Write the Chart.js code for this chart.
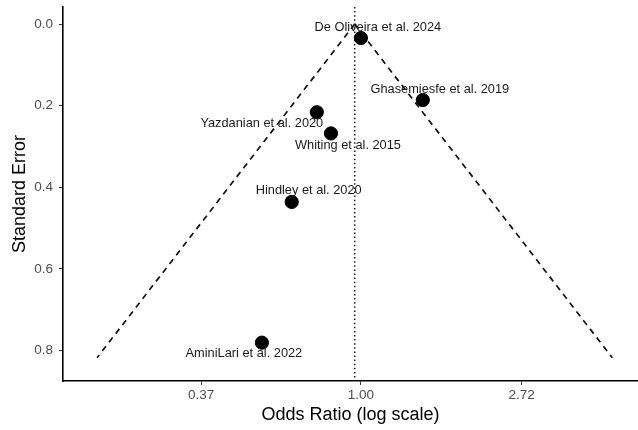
<!DOCTYPE html>
<html>
<head>
<meta charset="utf-8">
<script src="https://cdn.jsdelivr.net/npm/chart.js@4.4.1/dist/chart.umd.min.js"></script>
<style>
  html, body { margin: 0; padding: 0; background: #fff; }
  #wrap { width: 638px; height: 430px; }
</style>
</head>
<body>
<div id="wrap"><canvas id="funnel"></canvas></div>
<script>
// studies (odds ratio, standard error)
const studies = ['De Oliveira et al. 2024', 'Ghasemiesfe et al. 2019', 'Yazdanian et al. 2020',
  'Whiting et al. 2015', 'Hindley et al. 2020', 'AminiLari et al. 2022'];
const oddsRatios = [1.00, 1.47, 0.76, 0.83, 0.65, 0.54];
const stdErrors = [0.034, 0.186, 0.216, 0.268, 0.436, 0.781];

// pooled estimate and funnel depth
const pooledOR = 0.962;
const maxSE = 0.818;

// axis ticks
const xTicks = [0.37, 1.00, 2.72];
const yTicks = [0.0, 0.2, 0.4, 0.6, 0.8];

// label placement, px from the point centre (text centre)
const labelOffsets = [[17, -11], [17, -11], [-55, 11], [17, 12], [17, -11], [-18, 11]];

const points = oddsRatios.map((or, i) => ({ x: or, y: stdErrors[i] }));
const leftFunnel = [{ x: pooledOR, y: 0 }, { x: pooledOR * Math.exp(-1.96 * maxSE), y: maxSE }];
const rightFunnel = [{ x: pooledOR, y: 0 }, { x: pooledOR * Math.exp(1.96 * maxSE), y: maxSE }];

const xMin = 0.1566, xMax = 5.61;
const yMin = -0.042, yMax = 0.875;
const centreLine = [{ x: pooledOR, y: yMin }, { x: pooledOR, y: yMax }];

const FONT = '"Liberation Sans", Arial, sans-serif';

const studyLabels = {
  id: 'studyLabels',
  afterDatasetsDraw(chart) {
    const ctx = chart.ctx;
    const meta = chart.getDatasetMeta(0);
    ctx.save();
    ctx.font = '12.8px ' + FONT;
    ctx.fillStyle = '#1a1a1a';
    ctx.textAlign = 'center';
    ctx.textBaseline = 'middle';
    meta.data.forEach((pt, i) => {
      const off = labelOffsets[i];
      ctx.fillText(studies[i], pt.x + off[0], pt.y + off[1]);
    });
    ctx.restore();
  }
};

new Chart(document.getElementById('funnel'), {
  type: 'scatter',
  data: {
    datasets: [{
      label: 'Studies',
      data: points,
      backgroundColor: '#000',
      borderColor: '#000',
      pointRadius: 6.6,
      pointHoverRadius: 6.6
    }, {
      label: 'Left funnel',
      type: 'line',
      data: leftFunnel,
      borderColor: '#111',
      borderWidth: 1.7,
      borderDash: [6, 5],
      pointRadius: 0,
      fill: false
    }, {
      label: 'Right funnel',
      type: 'line',
      data: rightFunnel,
      borderColor: '#111',
      borderWidth: 1.7,
      borderDash: [6, 5],
      pointRadius: 0,
      fill: false
    }, {
      label: 'Pooled',
      type: 'line',
      data: centreLine,
      borderColor: '#222',
      borderWidth: 1.6,
      borderDash: [1.5, 2.6],
      pointRadius: 0,
      fill: false
    }]
  },
  options: {
    responsive: true,
    maintainAspectRatio: false,
    animation: false,
    layout: { autoPadding: false, padding: { top: 7, right: 0, left: 0, bottom: 0 } },
    plugins: {
      legend: { display: false },
      tooltip: { enabled: false }
    },
    scales: {
      x: {
        type: 'logarithmic',
        min: xMin,
        max: xMax,
        afterBuildTicks: (scale) => { scale.ticks = xTicks.map(v => ({ value: v })); },
        afterFit: (scale) => { scale.height = 49; scale.paddingLeft = 0; scale.paddingRight = 0; },
        grid: { drawOnChartArea: false, drawTicks: true, tickLength: 4, color: '#333', lineWidth: 1 },
        border: { display: true, color: '#000', width: 1.6 },
        ticks: {
          color: '#4d4d4d',
          padding: 2,
          font: { family: FONT, size: 13.5 },
          callback: (v) => Number(v).toFixed(2)
        },
        title: {
          display: true,
          text: 'Odds Ratio (log scale)',
          color: '#000',
          font: { family: FONT, size: 18 },
          padding: { top: 0, bottom: 4 }
        }
      },
      y: {
        reverse: true,
        min: yMin,
        max: yMax,
        afterBuildTicks: (scale) => { scale.ticks = yTicks.map(v => ({ value: v })); },
        afterFit: (scale) => { scale.width = 63; scale.paddingTop = 0; scale.paddingBottom = 0; },
        grid: { drawOnChartArea: false, drawTicks: true, tickLength: 4, color: '#333', lineWidth: 1 },
        border: { display: true, color: '#000', width: 1.6 },
        ticks: {
          color: '#4d4d4d',
          padding: 6,
          font: { family: FONT, size: 13.5 },
          callback: (v) => Number(v).toFixed(1)
        },
        title: {
          display: true,
          text: 'Standard Error',
          color: '#000',
          font: { family: FONT, size: 18 },
          padding: { top: 9.5, bottom: 0 }
        }
      }
    }
  },
  plugins: [studyLabels]
});
</script>
</body>
</html>
